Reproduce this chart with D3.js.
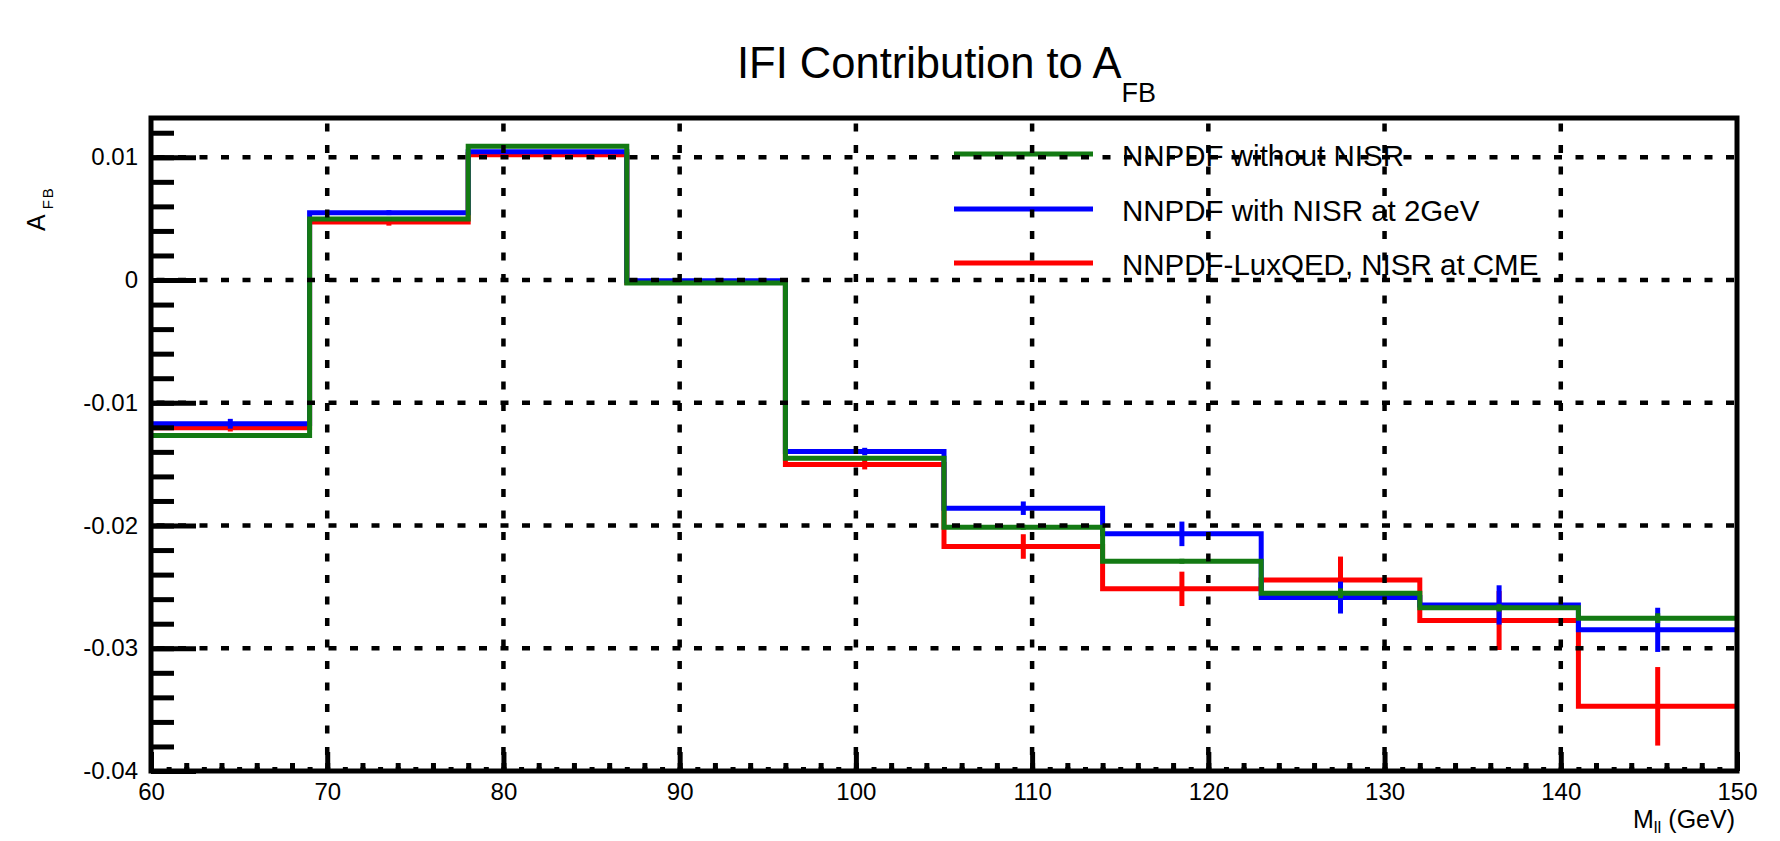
<!DOCTYPE html>
<html><head><meta charset="utf-8">
<script src="https://cdn.jsdelivr.net/npm/d3@7"></script>
<style>
body{margin:0;background:#fff}
svg{display:block}
text{font-family:"Liberation Sans",Arial,Helvetica,sans-serif;fill:#000}
</style>
</head><body>
<svg id="chart" width="1780" height="841"></svg>
<script>
// ---- data ----
const binEdges = [60,69,78,87,96,105,114,123,132,141,150];
const seriesNames = ["NNPDF without NISR","NNPDF with NISR at 2GeV","NNPDF-LuxQED, NISR at CME"];
const greenValues = [-0.01266,0.00497,0.0109,-0.00025,-0.01451,-0.02014,-0.02291,-0.02552,-0.02671,-0.02755];
const greenErrors = [0.0001,0.0001,0.0001,0.0001,0.0002,0.0002,0.0002,0.0004,0.0003,0.0004];
const blueValues = [-0.01171,0.00549,0.01046,-0.00005,-0.01397,-0.01859,-0.02068,-0.02587,-0.02647,-0.0285];
const blueErrors = [0.0004,0.0002,0.0001,0.0001,0.0003,0.00055,0.001,0.0013,0.0016,0.0018];
const redValues = [-0.01204,0.00473,0.0102,-0.0002,-0.01503,-0.02171,-0.02516,-0.02443,-0.02774,-0.03473];
const redErrors = [0.0003,0.0003,0.0001,0.0001,0.0004,0.001,0.0014,0.0019,0.0024,0.0032];
const xTicks = [60,70,80,90,100,110,120,130,140,150];
const xTickLabels = ["60","70","80","90","100","110","120","130","140","150"];
const yTicks = [-0.04,-0.03,-0.02,-0.01,0,0.01];
const yTickLabels = ["-0.04","-0.03","-0.02","-0.01","0","0.01"];
const xGrid = [70,80,90,100,110,120,130,140];
const yGrid = [-0.03,-0.02,-0.01,0,0.01];

// ---- layout ----
const L = 151, R = 1737, T = 118, B = 771;
const svg = d3.select("#chart");
const x = d3.scaleLinear().domain([60,150]).range([L,R]);
const y = d3.scaleLinear().domain([-0.04,0.0132]).range([B,T]);

const colors = {green:"#137a13", blue:"#0000ff", red:"#ff0000"};
const series = [
  {name:seriesNames[2], values:redValues, errors:redErrors, color:colors.red},
  {name:seriesNames[1], values:blueValues, errors:blueErrors, color:colors.blue},
  {name:seriesNames[0], values:greenValues, errors:greenErrors, color:colors.green}
];

// ---- series (histogram steps + error bars) ----
const line = d3.line().x(d=>x(d[0])).y(d=>y(d[1])).curve(d3.curveStepAfter);
series.forEach(s=>{
  const pts = binEdges.map((e,i)=>[e, s.values[Math.min(i, s.values.length-1)]]);
  svg.append("path").attr("d", line(pts))
    .attr("fill","none").attr("stroke", s.color).attr("stroke-width",5)
    .attr("stroke-linejoin","miter");
  const g = svg.append("g");
  s.values.forEach((v,i)=>{
    const c = (binEdges[i]+binEdges[i+1])/2;
    g.append("line").attr("x1",x(c)).attr("x2",x(c))
      .attr("y1",y(v - s.errors[i])).attr("y2",y(v + s.errors[i]))
      .attr("stroke", s.color).attr("stroke-width",5);
  });
});

// ---- legend ----
const legendOrder = [series[2], series[1], series[0]];
const legendY = [154, 209, 263];
legendOrder.forEach((s,i)=>{
  svg.append("line").attr("x1",954).attr("x2",1093).attr("y1",legendY[i]).attr("y2",legendY[i])
    .attr("stroke",s.color).attr("stroke-width",5);
  svg.append("text").attr("x",1122).attr("y",legendY[i]+11.5)
    .attr("font-size",29.5).text(s.name);
});

// ---- grid (dotted, drawn on top) ----
const gridG = svg.append("g");
xGrid.forEach(v=>{
  gridG.append("line").attr("x1",x(v)).attr("x2",x(v)).attr("y1",T).attr("y2",B)
    .attr("stroke","#000").attr("stroke-width",4.5).attr("stroke-dasharray","8,13.5").attr("stroke-dashoffset",16);
});
yGrid.forEach(v=>{
  gridG.append("line").attr("x1",L).attr("x2",R).attr("y1",y(v)).attr("y2",y(v))
    .attr("stroke","#000").attr("stroke-width",4.5).attr("stroke-dasharray","8,13.5").attr("stroke-dashoffset",16);
});

// ---- axes ----
const yMinor = d3.range(-0.04, 0.0131, 0.002).map(v=>+v.toFixed(4));
const yAxisMinor = d3.axisLeft(y).tickValues(yMinor).tickSize(-23).tickFormat("");
const yAxisMajor = d3.axisLeft(y).tickValues(yTicks).tickSize(-45).tickPadding(13)
  .tickFormat((d,i)=>yTickLabels[i]);
const xTer = d3.range(60,150.5,1);
const xSec = d3.range(60,150.5,2);
const xAxisTer = d3.axisBottom(x).tickValues(xTer).tickSize(-4).tickFormat("");
const xAxisSec = d3.axisBottom(x).tickValues(xSec).tickSize(-8).tickFormat("");
const xAxisMajor = d3.axisBottom(x).tickValues(xTicks).tickSize(-19).tickPadding(12)
  .tickFormat((d,i)=>xTickLabels[i]);

function styleAxis(g){
  g.select(".domain").remove();
  g.selectAll(".tick line").attr("stroke","#000").attr("stroke-width",5);
  g.selectAll(".tick text").attr("font-size",24).attr("font-family",null).attr("fill","#000");
}
svg.append("g").attr("transform",`translate(${L},0)`).call(yAxisMinor).call(styleAxis);
svg.append("g").attr("transform",`translate(${L},0)`).call(yAxisMajor).call(styleAxis);
svg.append("g").attr("transform",`translate(0,${B})`).call(xAxisTer).call(styleAxis);
svg.append("g").attr("transform",`translate(0,${B})`).call(xAxisSec).call(styleAxis);
svg.append("g").attr("transform",`translate(0,${B})`).call(xAxisMajor).call(styleAxis);

// ---- frame ----
svg.append("rect").attr("x",L).attr("y",T).attr("width",R-L).attr("height",B-T)
  .attr("fill","none").attr("stroke","#000").attr("stroke-width",5);

// ---- titles ----
const title = svg.append("text").attr("x",737).attr("y",78).attr("font-size",43.5);
title.append("tspan").text("IFI Contribution to A");
title.append("tspan").attr("font-size",27).attr("dy",24).text("FB");

const xt = svg.append("text").attr("x",1735).attr("y",828).attr("font-size",25).attr("text-anchor","end");
xt.append("tspan").text("M");
xt.append("tspan").attr("font-size",17).attr("dy",5).text("ll");
xt.append("tspan").attr("dy",-5).text(" (GeV)");

const yt = svg.append("text").attr("transform","translate(45,231) rotate(-90)").attr("font-size",25);
yt.append("tspan").text("A");
yt.append("tspan").attr("font-size",15).attr("dx",5).attr("dy",8).attr("letter-spacing",2).text("FB");
</script>
</body></html>
